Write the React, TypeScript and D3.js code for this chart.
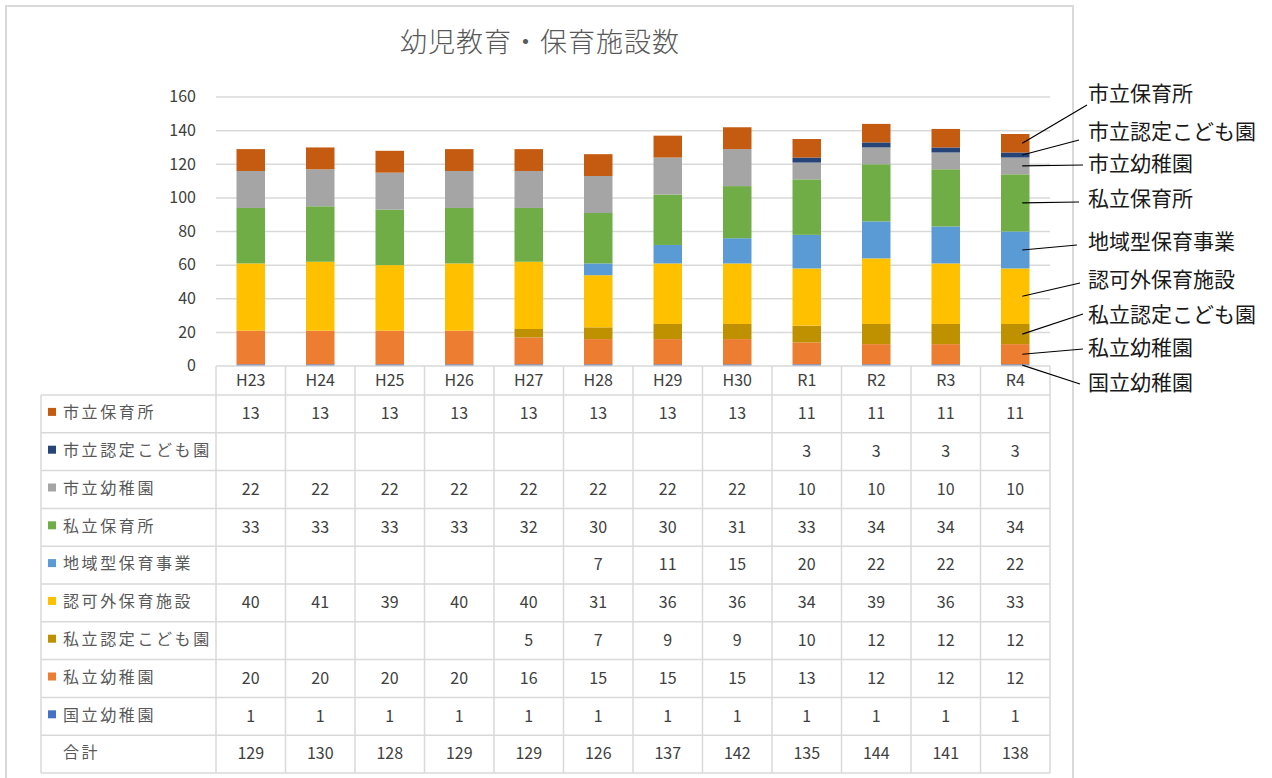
import React from 'react';
import * as d3 from 'd3';

/* ─── Data ─── */
const YEARS = ['H23', 'H24', 'H25', 'H26', 'H27', 'H28', 'H29', 'H30', 'R1', 'R2', 'R3', 'R4'];

// table order (top to bottom)
const SERIES_NAMES = [
    '市立保育所', '市立認定こども園', '市立幼稚園', '私立保育所', '地域型保育事業',
    '認可外保育施設', '私立認定こども園', '私立幼稚園', '国立幼稚園',
];
const SERIES_COLORS = [
    '#c55a11', '#264478', '#a5a5a5', '#70ad47', '#5b9bd5',
    '#ffc000', '#bf9000', '#ed7d31', '#4472c4',
];

const CITY_NURSERY = [13, 13, 13, 13, 13, 13, 13, 13, 11, 11, 11, 11];
const CITY_KODOMOEN = [null, null, null, null, null, null, null, null, 3, 3, 3, 3];
const CITY_KINDER = [22, 22, 22, 22, 22, 22, 22, 22, 10, 10, 10, 10];
const PRIV_NURSERY = [33, 33, 33, 33, 32, 30, 30, 31, 33, 34, 34, 34];
const REGIONAL = [null, null, null, null, null, 7, 11, 15, 20, 22, 22, 22];
const UNLICENSED = [40, 41, 39, 40, 40, 31, 36, 36, 34, 39, 36, 33];
const PRIV_KODOMOEN = [null, null, null, null, 5, 7, 9, 9, 10, 12, 12, 12];
const PRIV_KINDER = [20, 20, 20, 20, 16, 15, 15, 15, 13, 12, 12, 12];
const NATIONAL_KINDER = [1, 1, 1, 1, 1, 1, 1, 1, 1, 1, 1, 1];
const TOTALS = [129, 130, 128, 129, 129, 126, 137, 142, 135, 144, 141, 138];

const SERIES_VALUES: (number | null)[][] = [
    CITY_NURSERY, CITY_KODOMOEN, CITY_KINDER, PRIV_NURSERY, REGIONAL,
    UNLICENSED, PRIV_KODOMOEN, PRIV_KINDER, NATIONAL_KINDER,
];

const Y_TICKS = [0, 20, 40, 60, 80, 100, 120, 140, 160];

/* ─── Layout ─── */
const FONT = "'Noto Sans CJK JP', 'Noto Sans', sans-serif";
const GRID = '#d9d9d9';
const PLOT = { left: 216, right: 1050, top: 97, bottom: 366 };
const TABLE = { left: 41, headerBottom: 395, bottom: 773 };
// right-side callout labels (y of label centre), same order as SERIES_NAMES
const CALLOUT_Y = [95, 133, 165, 200, 243, 281, 316, 349, 384];
const CALLOUT_END = [[1087, 105], [1079, 140], [1083, 165], [1079, 202], [1077, 245], [1080, 283], [1083, 314], [1083, 349], [1080, 384]];

export default function App() {
    const x = d3.scaleBand<string>().domain(YEARS).range([PLOT.left, PLOT.right]).paddingInner(0).paddingOuter(0);
    const y = d3.scaleLinear().domain([0, 160]).range([PLOT.bottom, PLOT.top]);
    const barW = x.bandwidth() * 0.41;

    // stack bottom → top (reverse table order)
    const stackKeys = SERIES_NAMES.map((_, i) => i).reverse();
    const rows = YEARS.map((yr, j) => {
        const r: any = { year: yr };
        SERIES_NAMES.forEach((_, i) => { r[i] = SERIES_VALUES[i][j] ?? 0; });
        return r;
    });
    const stacked = d3.stack<any>().keys(stackKeys.map(String))(rows);

    const nRows = SERIES_NAMES.length + 1;
    const rowH = (TABLE.bottom - TABLE.headerBottom) / nRows;
    const lastIdx = YEARS.length - 1;
    const lastCx = (x(YEARS[lastIdx]) as number) + x.bandwidth() / 2;
    const cellX = (j: number) => (x(YEARS[j]) as number) + x.bandwidth() / 2;

    return (
        <svg width={1272} height={778} style={{ position: 'absolute', left: 0, top: 0, background: '#fff' }} fontFamily={FONT}>
            <rect x={6} y={6} width={1067} height={800} fill="#fff" stroke={GRID} strokeWidth={2} />

            <text x={540} y={45} textAnchor="middle" dominantBaseline="middle" fontSize={27} letterSpacing={1} fill="#595959" fontWeight={300}>
                幼児教育・保育施設数
            </text>

            {/* grid */}
            {Y_TICKS.filter(t => t > 0).map(t => (
                <line key={t} x1={PLOT.left} x2={PLOT.right} y1={y(t)} y2={y(t)} stroke={GRID} strokeWidth={1.5} />
            ))}
            {Y_TICKS.map(t => (
                <text key={t} x={196} y={y(t) + 1} textAnchor="end" dominantBaseline="middle" fontSize={16} fill="#404040">{t}</text>
            ))}

            {/* bars */}
            {stacked.map(layer => {
                const si = +layer.key;
                return (
                    <g key={layer.key} fill={SERIES_COLORS[si]}>
                        {layer.map((d, j) => d[1] > d[0] ? (
                            <rect key={j} x={(x(YEARS[j]) as number) + (x.bandwidth() - barW) / 2} width={barW}
                                y={y(d[1])} height={y(d[0]) - y(d[1])} />
                        ) : null)}
                    </g>
                );
            })}

            {/* table grid */}
            <line x1={PLOT.left} x2={PLOT.right} y1={PLOT.bottom} y2={PLOT.bottom} stroke={GRID} strokeWidth={1.5} />
            {d3.range(YEARS.length + 1).map(i => {
                const xx = PLOT.left + i * x.bandwidth();
                return <line key={i} x1={xx} x2={xx} y1={PLOT.bottom} y2={TABLE.bottom} stroke={GRID} strokeWidth={1.5} />;
            })}
            <line x1={TABLE.left} x2={TABLE.left} y1={TABLE.headerBottom} y2={TABLE.bottom} stroke={GRID} strokeWidth={1.5} />
            {d3.range(nRows + 1).map(k => (
                <line key={k} x1={TABLE.left} x2={PLOT.right} y1={TABLE.headerBottom + k * rowH} y2={TABLE.headerBottom + k * rowH}
                    stroke={GRID} strokeWidth={1.5} />
            ))}

            {/* header */}
            {YEARS.map((yr, j) => (
                <text key={yr} x={cellX(j)} y={(PLOT.bottom + TABLE.headerBottom) / 2 + 1}
                    textAnchor="middle" dominantBaseline="middle" fontSize={16} fill="#404040">{yr}</text>
            ))}

            {/* table rows */}
            {SERIES_NAMES.map((name, i) => {
                const cy = TABLE.headerBottom + (i + 0.5) * rowH;
                return (
                    <g key={name}>
                        <rect x={48} y={cy - 6} width={8} height={8} fill={SERIES_COLORS[i]} />
                        <text x={63} y={cy} dominantBaseline="middle" fontSize={16} letterSpacing={2.6} fill="#595959">{name}</text>
                        {SERIES_VALUES[i].map((v, j) => v == null ? null : (
                            <text key={j} x={cellX(j)} y={cy + 1} textAnchor="middle"
                                dominantBaseline="middle" fontSize={16} fill="#404040">{v}</text>
                        ))}
                    </g>
                );
            })}
            {(() => {
                const cy = TABLE.headerBottom + (nRows - 0.5) * rowH;
                return (
                    <g>
                        <text x={63} y={cy} dominantBaseline="middle" fontSize={16} letterSpacing={2.6} fill="#595959">合計</text>
                        {TOTALS.map((v, j) => (
                            <text key={j} x={cellX(j)} y={cy + 1} textAnchor="middle"
                                dominantBaseline="middle" fontSize={16} fill="#404040">{v}</text>
                        ))}
                    </g>
                );
            })()}

            {/* callouts for last bar */}
            {SERIES_NAMES.map((name, i) => {
                const layer = stacked.find(l => +l.key === i)!;
                const d = layer[lastIdx];
                const midY = y((d[0] + d[1]) / 2);
                return (
                    <g key={name}>
                        <line x1={lastCx + 7} y1={midY} x2={CALLOUT_END[i][0]} y2={CALLOUT_END[i][1]} stroke="#000" strokeWidth={1.2} />
                        <text x={1088} y={CALLOUT_Y[i]} dominantBaseline="middle" fontSize={21} fill="#1a1a1a">{name}</text>
                    </g>
                );
            })}
        </svg>
    );
}
